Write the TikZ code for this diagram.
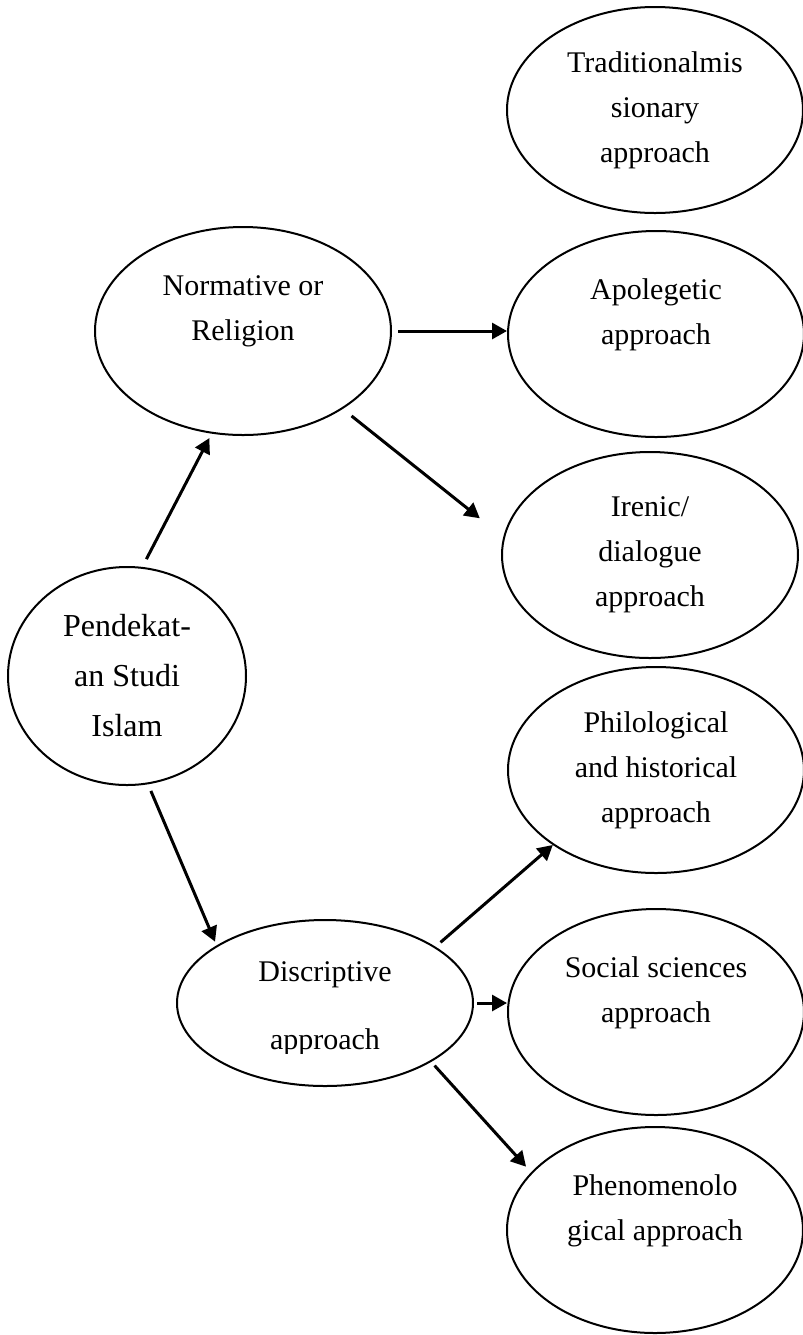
\documentclass[tikz,border=0pt]{standalone}
\usepackage{fontspec}
\setmainfont{Liberation Serif}
\usetikzlibrary{shapes.geometric,arrows.meta}

\begin{document}
\begin{tikzpicture}[x=0.5pt,y=-0.5pt,
        bubble/.style={ellipse,draw,line width=1pt,inner sep=0pt,minimum width=148pt,minimum height=103pt,
            align=center,font=\fontsize{15}{22.5}\selectfont},
        link/.style={-{Triangle[length=7.5pt,width=8pt]},line width=1.5pt}]
    \useasboundingbox (0,0) rectangle (803,1335);

    % Root
    \node[bubble,minimum width=119pt,minimum height=109pt,font=\fontsize{16}{25}\selectfont] (pend) at (127,676) {Pendekat-\\an Studi\\Islam};

    % Level 1
    \node[bubble,minimum height=104pt] (norm) at (243,331) {Normative or\\Religion\\~};
    \node[bubble,minimum height=83pt] (disc) at (325,1003) {};
    \begin{scope}
        \clip (150,900) rectangle (500,1053);
        \node[align=center,font=\fontsize{15}{22.5}\selectfont] (discText) at (325,1009) {Discriptive\\[11.5pt]approach};
    \end{scope}

    % Level 2
    \node[bubble] (trad) at (655,110) {Traditionalmis\\sionary\\approach};
    \node[bubble] (apol) at (656,334) {Apolegetic\\approach\\~};
    \node[bubble] (iren) at (650,555) {Irenic/\\dialogue\\approach};
    \node[bubble] (phil) at (656,770) {Philological\\and historical\\approach};
    \node[bubble] (soc) at (656,1012) {Social sciences\\approach\\~};
    \node[bubble] (phen) at (655,1230) {Phenomenolo\\gical approach\\~};

    % Arrows
    \draw[link,shorten <=4.4pt,shorten >=2.5pt] (pend.82) -- (norm.253);
    \draw[link,shorten <=3.6pt,shorten >=2pt] (pend.281) -- (disc.152.5);
    \draw[link,shorten <=3pt] (norm.east) -- (norm.east -| apol.west);
    \draw[link,shorten <=5.6pt,shorten >=15pt] (norm.-38) -- (iren.173);
    \draw[link,shorten <=3.3pt] (disc.27) -- (phil.216);
    \draw[link,shorten <=1.5pt] (disc.east) -- (disc.east -| soc.west);
    \draw[link,shorten <=2.5pt,shorten >=3.75pt] (disc.-29) -- (phen.155);
\end{tikzpicture}
\end{document}
